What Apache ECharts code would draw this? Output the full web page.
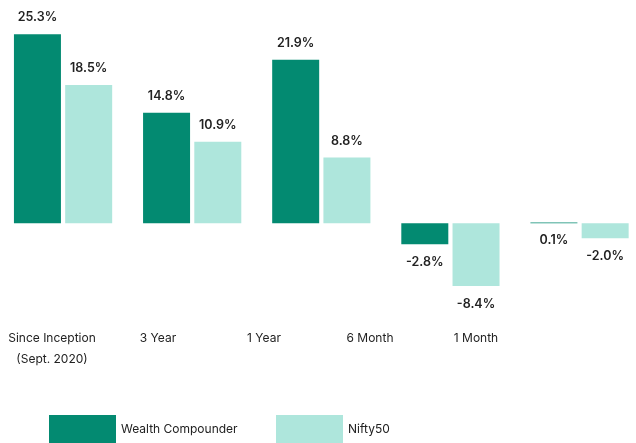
<!DOCTYPE html>
<html>
<head>
<meta charset="utf-8">
<script src="https://cdn.jsdelivr.net/npm/echarts@6/dist/echarts.min.js"></script>
<style>
  html, body { margin: 0; padding: 0; background: #fff; }
  #chart { width: 636px; height: 443px; }
</style>
</head>
<body>
<div id="chart"></div>
<script>
const categories = ['Since Inception\n(Sept. 2020)', '3 Year', '1 Year', '6 Month', '1 Month'];
const wealthCompounder = [25.3, 14.8, 21.9, -2.8, 0.1];
const nifty50 = [18.5, 10.9, 8.8, -8.4, -2.0];

const darkGreen = '#038a71';
const lightGreen = '#aee6dc';
const font = 'Inter, "Open Sans", sans-serif';

// labels sit under the bar when it is negative or almost zero
function withLabels(values) {
    return values.map(function (v) {
        return {
            value: v,
            label: v < 0.5
                ? { position: 'bottom', distance: v < 0 ? 12 : 10 }
                : { position: 'top', distance: 10 }
        };
    });
}

const chart = echarts.init(document.getElementById('chart'));

const legendText = { fontSize: 12, color: '#222', fontFamily: font };

const option = {
    animation: false,
    textStyle: { fontFamily: font },
    legend: [
        {
            data: ['Wealth Compounder'],
            left: 44, top: 410,
            itemWidth: 67, itemHeight: 28,
            icon: 'rect',
            textStyle: legendText
        },
        {
            data: ['Nifty50'],
            left: 271, top: 410,
            itemWidth: 67, itemHeight: 28,
            icon: 'rect',
            textStyle: legendText
        }
    ],
    grid: [
        // bars; the plot runs a little past the right edge
        { left: -1.5, width: 645.6, top: 29, height: 269, outerBoundsMode: 'none' },
        // only the category labels
        { left: -1, width: 530, top: 29, height: 268, outerBoundsMode: 'none' }
    ],
    xAxis: [
        {
            type: 'category',
            gridIndex: 0,
            data: categories,
            axisLine: { show: false },
            axisTick: { show: false },
            axisLabel: { show: false }
        },
        {
            type: 'category',
            gridIndex: 1,
            data: categories,
            axisLine: { show: false },
            axisTick: { show: false },
            axisLabel: {
                interval: 0,
                margin: 31,
                fontSize: 12,
                lineHeight: 21,
                color: '#222',
                fontFamily: font
            }
        }
    ],
    yAxis: [
        { type: 'value', gridIndex: 0, min: -10, max: 26, show: false, splitLine: { show: false } },
        { type: 'value', gridIndex: 1, min: -10, max: 26, show: false, splitLine: { show: false } }
    ],
    series: [
        {
            name: 'Wealth Compounder',
            type: 'bar',
            data: withLabels(wealthCompounder),
            barWidth: 47,
            barGap: '9%',
            itemStyle: { color: darkGreen },
            label: {
                show: true,
                fontSize: 12.5,
                fontWeight: 600,
                color: '#222',
                fontFamily: font,
                formatter: function (p) { return p.value.toFixed(1) + '%'; }
            }
        },
        {
            name: 'Nifty50',
            type: 'bar',
            data: withLabels(nifty50),
            barWidth: 47,
            itemStyle: { color: lightGreen },
            label: {
                show: true,
                fontSize: 12.5,
                fontWeight: 600,
                color: '#222',
                fontFamily: font,
                formatter: function (p) { return p.value.toFixed(1) + '%'; }
            }
        }
    ]
};

chart.setOption(option);
</script>
</body>
</html>
